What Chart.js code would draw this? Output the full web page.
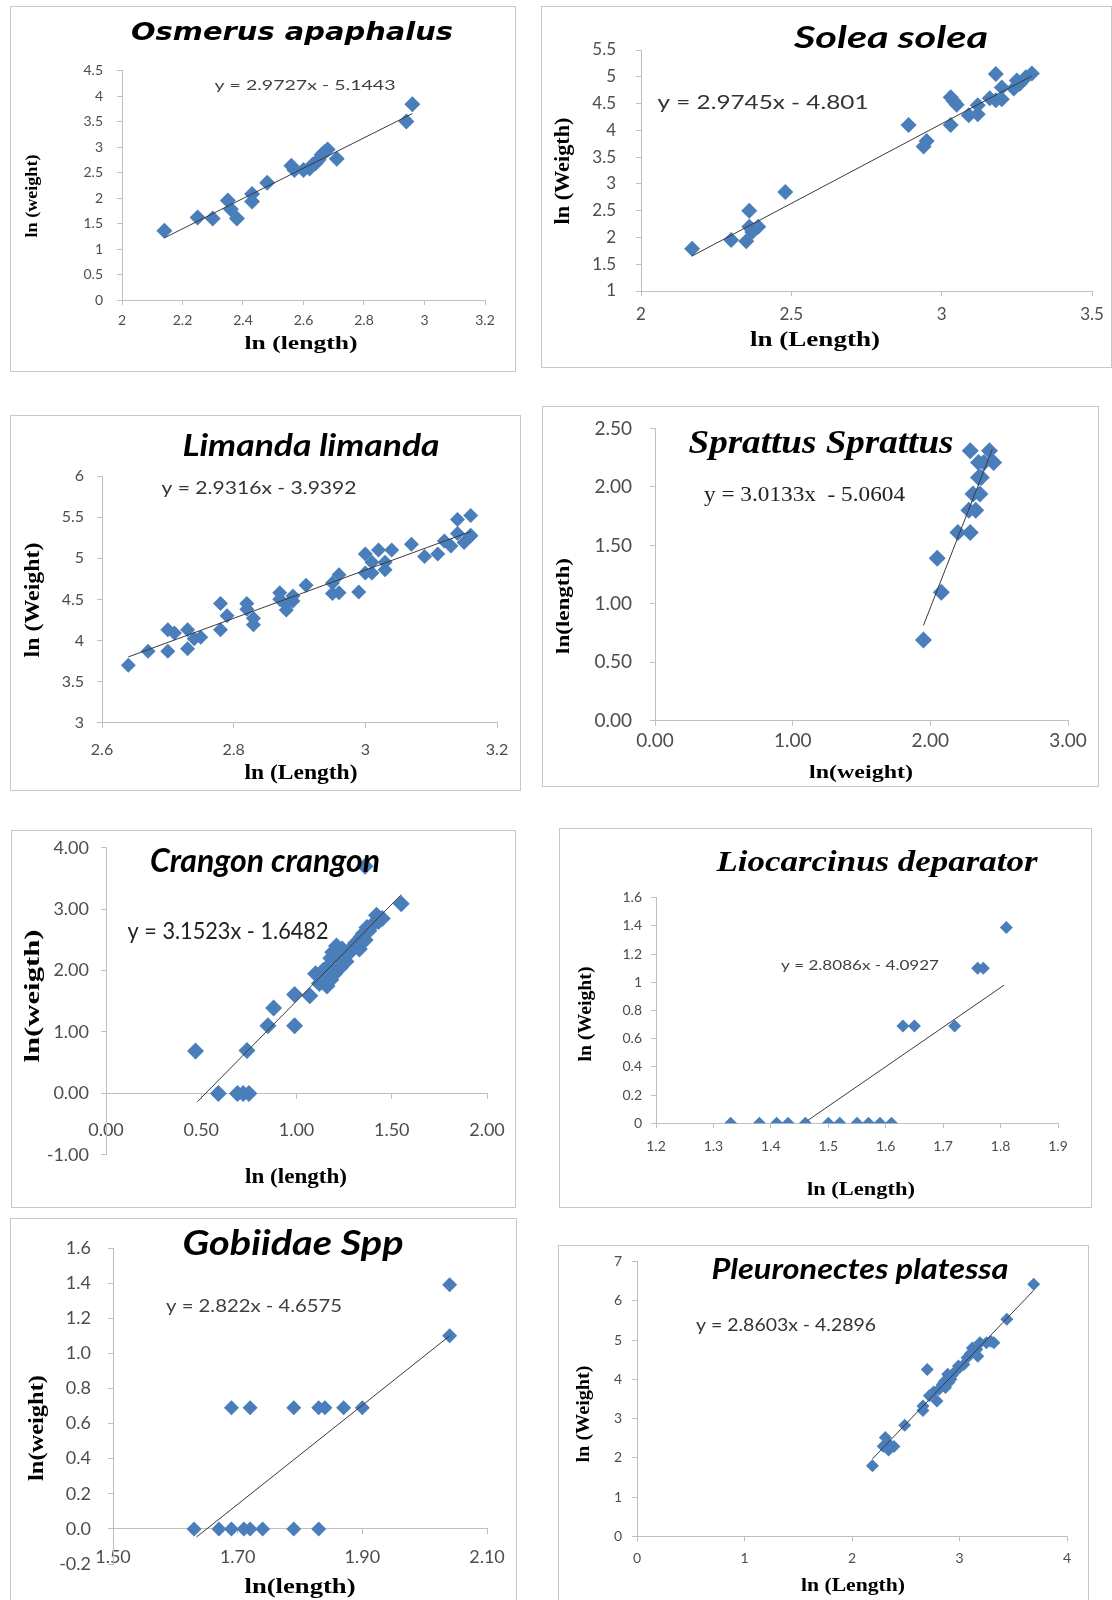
<!DOCTYPE html>
<html>
<head>
<meta charset="utf-8">
<script src="https://cdn.jsdelivr.net/npm/chart.js@4.4.1/dist/chart.umd.min.js"></script>
<style>
    body { margin: 0; background: #fff; }
    #page { position: relative; width: 1112px; height: 1600px; overflow: hidden; background: #fff; }
    .panel { position: absolute; }
</style>
</head>
<body>
<div id="page"></div>
<script>
// ---- data: ln(length) vs ln(weight) ----
const osmerusX = [2.14, 2.25, 2.30, 2.35, 2.36, 2.38, 2.43, 2.43, 2.48, 2.56, 2.57, 2.60, 2.62, 2.63, 2.64, 2.65, 2.66, 2.67, 2.68, 2.71, 2.94, 2.96];
const osmerusY = [1.36, 1.62, 1.60, 1.95, 1.78, 1.60, 1.93, 2.08, 2.30, 2.63, 2.55, 2.55, 2.58, 2.65, 2.68, 2.75, 2.85, 2.90, 2.95, 2.77, 3.50, 3.84];
const osmerusFit = [2.9727, -5.1443];
const osmerusFitRange = [2.14, 2.96];
const osmerusXTicks = [2, 2.2, 2.4, 2.6, 2.8, 3, 3.2];
const osmerusYTicks = [0, 0.5, 1, 1.5, 2, 2.5, 3, 3.5, 4, 4.5];

const soleaX = [2.17, 2.30, 2.35, 2.36, 2.36, 2.37, 2.37, 2.39, 2.48, 2.89, 2.94, 2.95, 3.03, 3.03, 3.04, 3.05, 3.09, 3.12, 3.12, 3.16, 3.18, 3.18, 3.20, 3.20, 3.24, 3.25, 3.26, 3.28, 3.30];
const soleaY = [1.79, 1.95, 1.93, 2.50, 2.20, 2.10, 2.15, 2.20, 2.85, 4.10, 3.70, 3.80, 4.10, 4.62, 4.55, 4.48, 4.28, 4.30, 4.47, 4.60, 5.05, 4.56, 4.58, 4.80, 4.78, 4.93, 4.87, 4.99, 5.06];
const soleaFit = [2.9745, -4.801];
const soleaFitRange = [2.17, 3.30];
const soleaXTicks = [2, 2.5, 3, 3.5];
const soleaYTicks = [1, 1.5, 2, 2.5, 3, 3.5, 4, 4.5, 5, 5.5];

const limandaX = [2.64, 2.67, 2.70, 2.70, 2.71, 2.73, 2.73, 2.74, 2.75, 2.78, 2.78, 2.79, 2.82, 2.82, 2.83, 2.83, 2.87, 2.87, 2.88, 2.88, 2.89, 2.89, 2.91, 2.95, 2.95, 2.96, 2.96, 2.99, 3.00, 3.00, 3.01, 3.01, 3.02, 3.03, 3.03, 3.04, 3.07, 3.09, 3.11, 3.12, 3.13, 3.14, 3.14, 3.15, 3.16, 3.16, 3.16];
const limandaY = [3.70, 3.87, 3.87, 4.13, 4.09, 3.90, 4.13, 4.02, 4.04, 4.45, 4.13, 4.30, 4.45, 4.38, 4.27, 4.19, 4.58, 4.50, 4.43, 4.37, 4.48, 4.54, 4.67, 4.70, 4.57, 4.80, 4.58, 4.59, 4.82, 5.05, 4.95, 4.82, 5.10, 4.95, 4.86, 5.10, 5.17, 5.02, 5.05, 5.21, 5.15, 5.47, 5.30, 5.19, 5.27, 5.52, 5.28];
const limandaFit = [2.9316, -3.9392];
const limandaFitRange = [2.64, 3.16];
const limandaXTicks = [2.6, 2.8, 3, 3.2];
const limandaYTicks = [3, 3.5, 4, 4.5, 5, 5.5, 6];

// note: axes swapped in the original (ln(weight) on x)
const sprattusX = [1.95, 2.05, 2.08, 2.20, 2.29, 2.29, 2.28, 2.33, 2.31, 2.36, 2.35, 2.37, 2.35, 2.39, 2.43, 2.46];
const sprattusY = [0.69, 1.39, 1.10, 1.61, 1.61, 2.31, 1.80, 1.80, 1.94, 1.94, 2.08, 2.08, 2.21, 2.21, 2.31, 2.21];
const sprattusFit = [3.0133, -5.0604];
const sprattusFitRange = [1.95, 2.45];
const sprattusXTicks = [0, 1, 2, 3];
const sprattusYTicks = [0, 0.5, 1, 1.5, 2, 2.5];

const crangonX = [0.47, 0.59, 0.69, 0.72, 0.75, 0.74, 0.85, 0.88, 0.99, 0.99, 1.07, 1.10, 1.12, 1.14, 1.15, 1.16, 1.17, 1.18, 1.18, 1.19, 1.20, 1.21, 1.22, 1.23, 1.24, 1.25, 1.26, 1.28, 1.30, 1.31, 1.33, 1.34, 1.35, 1.36, 1.37, 1.38, 1.40, 1.42, 1.43, 1.45, 1.36, 1.55];
const crangonY = [0.69, 0.00, 0.00, 0.00, 0.00, 0.70, 1.10, 1.39, 1.10, 1.61, 1.59, 1.95, 1.79, 2.00, 1.90, 1.75, 2.08, 2.20, 1.85, 2.30, 1.95, 2.40, 2.20, 2.05, 2.35, 2.25, 2.15, 2.30, 2.40, 2.45, 2.35, 2.55, 2.60, 2.50, 2.70, 2.65, 2.75, 2.90, 2.80, 2.85, 3.70, 3.09];
const crangonFit = [3.1523, -1.6482];
const crangonFitRange = [0.48, 1.55];
const crangonXTicks = [0, 0.5, 1, 1.5, 2];
const crangonYTicks = [-1, 0, 1, 2, 3, 4];

const liocarcinusX = [1.33, 1.38, 1.41, 1.43, 1.46, 1.50, 1.52, 1.55, 1.57, 1.59, 1.61, 1.63, 1.65, 1.72, 1.76, 1.77, 1.81];
const liocarcinusY = [0, 0, 0, 0, 0, 0, 0, 0, 0, 0, 0, 0.69, 0.69, 0.69, 1.10, 1.10, 1.39];
const liocarcinusFit = [2.8086, -4.0927];
const liocarcinusFitRange = [1.464, 1.806];
const liocarcinusXTicks = [1.2, 1.3, 1.4, 1.5, 1.6, 1.7, 1.8, 1.9];
const liocarcinusYTicks = [0, 0.2, 0.4, 0.6, 0.8, 1, 1.2, 1.4, 1.6];

const gobiidaeX = [1.63, 1.67, 1.69, 1.71, 1.72, 1.74, 1.79, 1.83, 1.69, 1.72, 1.79, 1.83, 1.84, 1.87, 1.90, 2.04, 2.04];
const gobiidaeY = [0, 0, 0, 0, 0, 0, 0, 0, 0.69, 0.69, 0.69, 0.69, 0.69, 0.69, 0.69, 1.10, 1.39];
const gobiidaeFit = [2.822, -4.6575];
const gobiidaeFitRange = [1.634, 2.04];
const gobiidaeXTicks = [1.5, 1.7, 1.9, 2.1];
const gobiidaeYTicks = [-0.2, 0, 0.2, 0.4, 0.6, 0.8, 1.0, 1.2, 1.4, 1.6];

const pleuronectesX = [2.19, 2.29, 2.31, 2.33, 2.34, 2.39, 2.49, 2.66, 2.66, 2.70, 2.72, 2.76, 2.79, 2.81, 2.84, 2.86, 2.87, 2.89, 2.90, 2.92, 2.93, 2.96, 2.99, 3.00, 3.04, 3.07, 3.10, 3.12, 3.16, 3.17, 3.19, 3.25, 3.29, 3.32, 3.44, 3.69];
const pleuronectesY = [1.80, 2.30, 2.52, 2.39, 2.20, 2.29, 2.83, 3.21, 3.32, 4.25, 3.58, 3.68, 3.45, 3.75, 3.87, 3.95, 3.79, 4.13, 3.92, 4.00, 4.10, 4.20, 4.34, 4.30, 4.38, 4.55, 4.65, 4.80, 4.76, 4.59, 4.93, 4.93, 4.97, 4.93, 5.53, 6.42];
const pleuronectesFit = [2.8603, -4.2896];
const pleuronectesFitRange = [2.19, 3.69];
const pleuronectesXTicks = [0, 1, 2, 3, 4];
const pleuronectesYTicks = [0, 1, 2, 3, 4, 5, 6, 7];

// ---- styling ----
const MARKER = '#4a7ebb';
const AXIS = '#bfbfbf';
const FRAME = '#c8c8c8';
const SERIF = '"Liberation Serif", "Times New Roman", serif';
const SANS = 'Lato, "Open Sans", sans-serif';

// frame = [left, top, width, height], plot = [left, top, right, bottom] (page px)
const panels = [
    {
        xs: osmerusX, ys: osmerusY, fit: osmerusFit, fitRange: osmerusFitRange,
        xTicks: osmerusXTicks, yTicks: osmerusYTicks, xDec: null, yDec: null,
        frame: [10, 6, 506, 366], plot: [122, 70.5, 485, 300],
        radius: 8, tickSize: 14, yPad: 14, xPad: 7,
        texts: [
            { t: 'Osmerus apaphalus', x: 292, y: 34, f: 'italic bold 24px "DejaVu Sans"', w: 322 },
            { t: 'y = 2.9727x - 5.1443', x: 305, y: 85, f: '14px ' + SANS, w: 181, c: '#404040' },
            { t: 'ln (length)', x: 301, y: 344, f: 'bold 19px ' + SERIF, w: 113 },
            { t: 'ln (weight)', x: 33, y: 196, f: 'bold 16px ' + SERIF, w: 83, rot: true }
        ]
    },
    {
        xs: soleaX, ys: soleaY, fit: soleaFit, fitRange: soleaFitRange,
        xTicks: soleaXTicks, yTicks: soleaYTicks, xDec: null, yDec: null,
        frame: [541, 6, 571, 362], plot: [641, 50, 1092, 291],
        radius: 8, tickSize: 17, yPad: 20, xPad: 8,
        texts: [
            { t: 'Solea solea', x: 891, y: 38, f: 'italic bold 30px ' + SANS, w: 194 },
            { t: 'y = 2.9745x - 4.801', x: 763, y: 103, f: '20px ' + SANS, w: 211, c: '#333' },
            { t: 'ln (Length)', x: 815, y: 341, f: 'bold 20px ' + SERIF, w: 130 },
            { t: 'ln (Weigth)', x: 564, y: 171, f: 'bold 20px ' + SERIF, w: 107, rot: true }
        ]
    },
    {
        xs: limandaX, ys: limandaY, fit: limandaFit, fitRange: limandaFitRange,
        xTicks: limandaXTicks, yTicks: limandaYTicks, xDec: null, yDec: null,
        frame: [10, 415, 511, 376], plot: [102, 476, 497, 722.7],
        radius: 7.5, tickSize: 16, yPad: 13, xPad: 13,
        texts: [
            { t: 'Limanda limanda', x: 311, y: 446, f: 'italic bold 30px ' + SANS, w: 257 },
            { t: 'y = 2.9316x - 3.9392', x: 259, y: 488, f: '18px ' + SANS, w: 195, c: '#333' },
            { t: 'ln (Length)', x: 301, y: 774, f: 'bold 20px ' + SERIF, w: 113 },
            { t: 'ln (Weight)', x: 34, y: 600, f: 'bold 20px ' + SERIF, w: 115, rot: true }
        ]
    },
    {
        xs: sprattusX, ys: sprattusY, fit: sprattusFit, fitRange: sprattusFitRange,
        xTicks: sprattusXTicks, yTicks: sprattusYTicks, xDec: 2, yDec: 2,
        frame: [542, 406, 557, 381], plot: [655, 428.5, 1068, 720.7],
        radius: 8.5, tickSize: 19, yPad: 18, xPad: 4,
        texts: [
            { t: 'Sprattus Sprattus', x: 821, y: 444, f: 'italic bold 34px ' + SERIF, w: 265 },
            { t: 'y = 3.0133x  - 5.0604', x: 804.5, y: 495, f: '21px ' + SERIF, w: 201, c: '#222' },
            { t: 'ln(weight)', x: 861, y: 773, f: 'bold 19px ' + SERIF, w: 104 },
            { t: 'ln(length)', x: 564, y: 606, f: 'bold 19px ' + SERIF, w: 96, rot: true }
        ]
    },
    {
        xs: crangonX, ys: crangonY, fit: crangonFit, fitRange: crangonFitRange,
        xTicks: crangonXTicks, yTicks: crangonYTicks, xDec: 2, yDec: 2, xAtZero: true,
        frame: [11, 830, 505, 378], plot: [106, 847.8, 487, 1154.8],
        radius: 8.5, tickSize: 18, yPad: 12, xPad: 21,
        texts: [
            { t: 'Crangon crangon', x: 265, y: 862, f: 'italic bold 32px ' + SANS, w: 230 },
            { t: 'y = 3.1523x - 1.6482', x: 228, y: 932, f: '23px ' + SANS, w: 201, c: '#222' },
            { t: 'ln (length)', x: 296, y: 1178, f: 'bold 21px ' + SERIF, w: 102 },
            { t: 'ln(weigth)', x: 34, y: 996, f: 'bold 20px ' + SERIF, w: 133, rot: true }
        ]
    },
    {
        xs: liocarcinusX, ys: liocarcinusY, fit: liocarcinusFit, fitRange: liocarcinusFitRange,
        xTicks: liocarcinusXTicks, yTicks: liocarcinusYTicks, xDec: 1, yDec: null,
        frame: [559, 828, 533, 380], plot: [656, 897.8, 1058, 1123.2],
        radius: 6.5, tickSize: 14, yPad: 9, xPad: 10,
        texts: [
            { t: 'Liocarcinus deparator', x: 877, y: 863, f: 'italic bold 30px ' + SERIF, w: 321 },
            { t: 'y = 2.8086x - 4.0927', x: 860, y: 965, f: '14px ' + SANS, w: 158, c: '#404040' },
            { t: 'ln (Length)', x: 861, y: 1190, f: 'bold 19px ' + SERIF, w: 108 },
            { t: 'ln (Weight)', x: 586, y: 1014, f: 'bold 19px ' + SERIF, w: 95, rot: true }
        ]
    },
    {
        xs: gobiidaeX, ys: gobiidaeY, fit: gobiidaeFit, fitRange: gobiidaeFitRange,
        xTicks: gobiidaeXTicks, yTicks: gobiidaeYTicks, xDec: 2, yDec: 1, xAtZero: true,
        frame: [10, 1218, 507, 382], plot: [113, 1248, 487, 1564], openBottom: true,
        radius: 7.5, tickSize: 18, yPad: 17, xPad: 12,
        texts: [
            { t: 'Gobiidae Spp', x: 293, y: 1244, f: 'italic bold 34px ' + SANS, w: 221 },
            { t: 'y = 2.822x - 4.6575', x: 254, y: 1307, f: '17px ' + SANS, w: 176, c: '#404040' },
            { t: 'ln(length)', x: 300, y: 1588, f: 'bold 21px ' + SERIF, w: 111 },
            { t: 'ln(weight)', x: 38, y: 1428, f: 'bold 20px ' + SERIF, w: 106, rot: true }
        ]
    },
    {
        xs: pleuronectesX, ys: pleuronectesY, fit: pleuronectesFit, fitRange: pleuronectesFitRange,
        xTicks: pleuronectesXTicks, yTicks: pleuronectesYTicks, xDec: null, yDec: null,
        frame: [558, 1245, 531, 355], plot: [637, 1261.5, 1067, 1536.5], openBottom: true,
        radius: 6.5, tickSize: 14, yPad: 10, xPad: 9,
        texts: [
            { t: 'Pleuronectes platessa', x: 860, y: 1270, f: 'italic bold 29px ' + SANS, w: 297 },
            { t: 'y = 2.8603x - 4.2896', x: 786, y: 1326, f: '17px ' + SANS, w: 180, c: '#333' },
            { t: 'ln (Length)', x: 853, y: 1586, f: 'bold 19px ' + SERIF, w: 104 },
            { t: 'ln (Weight)', x: 584, y: 1414, f: 'bold 19px ' + SERIF, w: 97, rot: true }
        ]
    }
];

function formatTick(v, dec) {
    if (dec === null) return String(Math.round(v * 1e6) / 1e6);
    return v.toFixed(dec);
}

// draw a label centred on (x, y), squeezed or stretched to the measured width
function drawFitted(ctx, item, ox, oy) {
    ctx.save();
    ctx.font = item.f;
    ctx.fillStyle = item.c || '#000';
    ctx.textAlign = 'center';
    ctx.textBaseline = 'middle';
    ctx.translate(item.x - ox, item.y - oy);
    if (item.rot) ctx.rotate(-Math.PI / 2);
    const measured = ctx.measureText(item.t).width;
    if (item.w && measured > 0) ctx.scale(item.w / measured, 1);
    ctx.fillText(item.t, 0, 0);
    ctx.restore();
}

function makePanelPlugin(p) {
    const [fx, fy] = p.frame;
    return {
        id: 'panelDecor',
        beforeDraw(chart) {
            const ctx = chart.ctx;
            ctx.save();
            ctx.fillStyle = '#fff';
            ctx.fillRect(0, 0, chart.width, chart.height);
            ctx.strokeStyle = FRAME;
            ctx.lineWidth = 1;
            ctx.strokeRect(0.5, 0.5, chart.width - 1, p.openBottom ? chart.height + 10 : chart.height - 1);
            ctx.restore();
        },
        afterDraw(chart) {
            p.texts.forEach(item => drawFitted(chart.ctx, item, fx, fy));
        }
    };
}

function buildPanel(p) {
    const [fx, fy, fw, fh] = p.frame;
    const [pl, pt, pr, pb] = p.plot;

    const wrap = document.createElement('div');
    wrap.className = 'panel';
    wrap.style.left = fx + 'px';
    wrap.style.top = fy + 'px';
    wrap.style.width = fw + 'px';
    wrap.style.height = fh + 'px';
    const canvas = document.createElement('canvas');
    canvas.width = fw;
    canvas.height = fh;
    canvas.style.width = fw + 'px';
    canvas.style.height = fh + 'px';
    wrap.appendChild(canvas);
    document.getElementById('page').appendChild(wrap);

    const points = p.xs.map((x, i) => ({ x: x, y: p.ys[i] }));
    const trend = p.fitRange.map(x => ({ x: x, y: p.fit[0] * x + p.fit[1] }));

    const tickFont = { family: SANS, size: p.tickSize };
    const grid = { display: true, drawOnChartArea: false, drawTicks: true, tickLength: 5, color: AXIS, lineWidth: 1 };
    const border = { display: true, color: AXIS, width: 1 };

    return new Chart(canvas, {
        type: 'scatter',
        data: {
            datasets: [
                {
                    data: points,
                    pointStyle: 'rectRot',
                    pointRadius: p.radius,
                    backgroundColor: MARKER,
                    borderWidth: 0,
                    order: 1
                },
                {
                    data: trend,
                    showLine: true,
                    fill: false,
                    pointRadius: 0,
                    borderColor: '#3a3a3a',
                    borderWidth: 1,
                    order: 0
                }
            ]
        },
        options: {
            responsive: false,
            animation: false,
            events: [],
            layout: {
                // an x axis pinned at y = 0 takes no layout space, so pad the bottom instead
                padding: { top: pt - fy, right: fx + fw - pr, left: 0, bottom: p.xAtZero ? fy + fh - pb : 0 }
            },
            plugins: {
                legend: { display: false },
                tooltip: { enabled: false }
            },
            scales: {
                x: {
                    type: 'linear',
                    position: p.xAtZero ? { y: 0 } : 'bottom',
                    min: p.xTicks[0],
                    max: p.xTicks[p.xTicks.length - 1],
                    afterBuildTicks: s => { s.ticks = p.xTicks.map(v => ({ value: v })); },
                    afterFit: s => {
                        s.height = p.xAtZero ? 0 : fy + fh - pb;
                        s.paddingLeft = 0;
                        s.paddingRight = 0;
                    },
                    grid: grid,
                    border: border,
                    ticks: {
                        autoSkip: false,
                        maxRotation: 0,
                        padding: p.xPad,
                        color: '#4d4d4d',
                        font: tickFont,
                        callback: v => formatTick(v, p.xDec)
                    }
                },
                y: {
                    type: 'linear',
                    position: 'left',
                    min: p.yTicks[0],
                    max: p.yTicks[p.yTicks.length - 1],
                    afterBuildTicks: s => { s.ticks = p.yTicks.map(v => ({ value: v })); },
                    afterFit: s => {
                        s.width = pl - fx;
                        s.paddingTop = 0;
                        s.paddingBottom = 0;
                    },
                    grid: grid,
                    border: border,
                    ticks: {
                        autoSkip: false,
                        padding: p.yPad,
                        color: '#4d4d4d',
                        font: tickFont,
                        callback: v => formatTick(v, p.yDec)
                    }
                }
            }
        },
        plugins: [makePanelPlugin(p)]
    });
}

const charts = panels.map(buildPanel);
</script>
</body>
</html>
